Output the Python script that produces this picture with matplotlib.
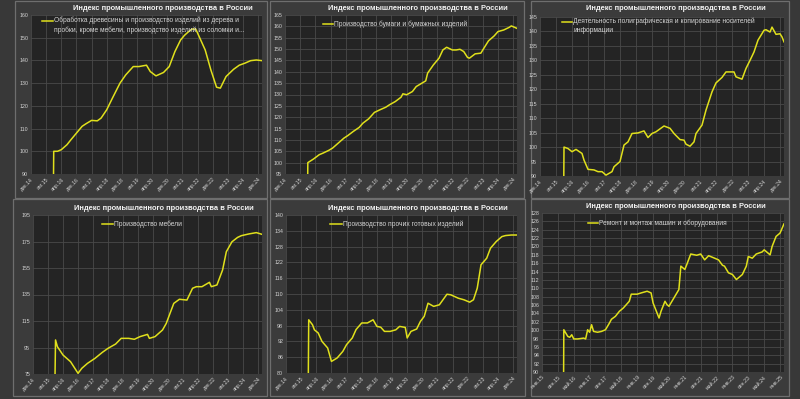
import matplotlib
matplotlib.use("Agg")
import matplotlib.pyplot as plt
from matplotlib.patches import Rectangle
from matplotlib.lines import Line2D

plt.rcParams['font.family'] = ['Liberation Sans', 'DejaVu Sans']

TITLE = "Индекс промышленного производства в России"

ticks_a = ['дек.14', 'авг.15', 'апр.16', 'дек.16', 'авг.17', 'апр.18', 'дек.18', 'авг.19',
           'апр.20', 'дек.20', 'авг.21', 'апр.22', 'дек.22', 'авг.23', 'апр.24', 'дек.24']
ticks_b = ['янв.15', 'сен.15', 'май.16', 'янв.17', 'сен.17', 'май.18', 'янв.19', 'сен.19',
           'май.20', 'янв.21', 'сен.21', 'май.22', 'янв.23', 'сен.23', 'май.24', 'янв.25']

# months since axis start (first category) ; values of the index
wood_m = [11, 12, 14, 16, 19, 21, 24, 27, 29, 32, 35, 37, 40, 43, 47, 50, 54, 57, 61, 63, 66, 70,
          73, 76, 79, 81, 83, 85, 87, 88, 92, 95, 98, 100, 103, 107, 110, 113, 116, 119, 122]
wood_v = [0, 100, 100, 100.7, 102.9, 105, 108, 111, 112.1, 113.6, 113.4, 114.6, 118.3, 123.4, 130,
          133.6, 137.3, 137.3, 137.9, 135.1, 133.2, 134.7, 137.3, 143.9, 149, 151, 152.5, 153.8,
          153.8, 152, 144.6, 135.8, 128.2, 127.8, 132.9, 136.1, 137.9, 138.8, 139.9, 140.2, 139.9]

paper_m = [11, 12, 15, 18, 20, 23, 25, 28, 31, 33, 36, 39, 41, 44, 47, 50, 53, 55, 58, 61, 62, 64,
           67, 69, 72, 74, 75, 78, 81, 83, 85, 88, 90, 92, 94, 96, 97, 100, 103, 104, 107, 110,
           112, 115, 118, 119, 122]
paper_v = [0, 100, 101.6, 103.5, 104.2, 105.4, 106.4, 108.6, 110.8, 111.9, 113.8, 115.5, 117.4,
           119.3, 122.1, 123.3, 124.4, 125.5, 126.9, 128.8, 130.3, 129.9, 131.3, 133.5, 135, 136,
           139.4, 143, 146, 149.6, 150.8, 149.6, 149.6, 149.9, 148.9, 146.3, 146, 147.9, 148.2,
           149.6, 153.6, 155.8, 157.7, 158.4, 159.6, 160.2, 159.1]

print_m = [11, 12, 14, 16, 18, 21, 22, 24, 27, 29, 31, 33, 36, 37, 40, 42, 44, 46, 49, 52, 54, 56,
           58, 61, 62, 65, 67, 70, 72, 73, 75, 77, 78, 81, 83, 86, 88, 91, 93, 97, 98, 101, 103,
           105, 107, 109, 112, 113, 115, 116, 118, 120, 121, 122]
print_v = [0, 100, 99.5, 98.4, 99.2, 97.8, 95.5, 92.3, 92.1, 91.5, 91.5, 90.3, 91.5, 93.2, 95,
           100.7, 101.8, 104.7, 104.9, 105.6, 103.3, 104.7, 105.3, 106.8, 107.3, 106.5, 104.7,
           102.6, 102.4, 101, 100.3, 101.8, 104.7, 107.6, 112.8, 119.1, 122.2, 124.1, 126, 126,
           124.3, 123.5, 127.2, 130, 132.9, 137, 140.4, 140.6, 139.8, 141.5, 139, 139.2, 138.1,
           136.4]

furn_m = [11, 12, 13, 16, 20, 24, 26, 29, 33, 37, 40, 44, 47, 51, 54, 57, 61, 62, 65, 69, 71, 73,
          75, 78, 82, 85, 87, 90, 94, 95, 98, 101, 103, 106, 109, 111, 115, 119, 122]
furn_v = [0, 100.7, 95.6, 89.3, 84.3, 75.5, 79.3, 83, 86.8, 91.4, 94.4, 97.6, 101.9, 101.9, 101.2,
          103.2, 104.9, 101.9, 103.2, 108.2, 113.2, 120.8, 128.3, 131.4, 130.8, 139.7, 140.9,
          140.9, 144.2, 140.9, 142.2, 153.5, 167.3, 174.8, 178.1, 179.4, 180.7, 181.7, 180.4]

other_m = [11, 12, 14, 15, 17, 19, 22, 24, 27, 30, 32, 35, 37, 40, 43, 46, 48, 50, 52, 55, 58, 60,
           63, 64, 66, 69, 71, 73, 75, 78, 81, 85, 87, 91, 94, 97, 99, 101, 103, 106, 108, 111,
           114, 116, 119, 122]
other_v = [0, 100.2, 98.3, 96.4, 95.2, 92, 89.5, 84.4, 85.7, 88.2, 90.8, 93.3, 96.5, 99, 99, 100.2,
           97.7, 97.4, 95.8, 95.8, 96.4, 97.7, 97.3, 93.3, 95.8, 96.7, 99.6, 101.5, 106.5, 105.3,
           105.9, 109.9, 109.7, 108.4, 107.8, 106.9, 107.8, 112.2, 121.1, 123.6, 127.4, 129.9,
           131.8, 132.2, 132.4, 132.4]

repair_m = [10, 11, 13, 14, 15, 16, 18, 21, 22, 23, 24, 25, 26, 28, 30, 32, 34, 35, 37, 39, 41, 44,
            45, 48, 50, 53, 55, 56, 58, 59, 60, 62, 63, 64, 66, 68, 69, 70, 72, 73, 75, 78, 80,
            82, 84, 86, 89, 91, 92, 94, 96, 98, 101, 103, 104, 106, 108, 111, 112, 115, 116, 118,
            120, 122]
repair_v = [0, 100.1, 98.5, 98.3, 98.9, 97.9, 97.9, 98.1, 97.9, 100.1, 99.5, 101.3, 99.7, 99.5,
            99.7, 100.1, 101.7, 102.6, 103.3, 104.5, 105.3, 106.9, 108.6, 108.6, 108.9, 109.3,
            108.9, 106.5, 104.1, 102.9, 104.5, 106.9, 106.1, 105.7, 107.3, 108.9, 109.7, 115.3,
            114.5, 115.7, 118.2, 117.9, 118.2, 116.8, 117.8, 117.4, 116.8, 115.5, 115.3, 113.7,
            113.3, 112.1, 113.3, 115.3, 117.6, 117.2, 118.2, 118.7, 119.2, 118, 120, 122.4, 123.2,
            125.4]

legend_wood = "Обработка древесины и производство изделий из дерева и\nпробки, кроме мебели, производство изделий из соломки и..."
legend_paper = "Производство бумаги и бумажных изделий"
legend_print = "Деятельность полиграфическая и копирование носителей\nинформации"
legend_furn = "Производство мебели"
legend_other = "Производство прочих готовых изделий"
legend_repair = "Ремонт и монтаж машин и оборудования"

W, H = 800, 399
fig = plt.figure(figsize=(8, 3.99), dpi=100, facecolor='#383838')

BG_PANEL = '#3b3b3b'
EDGE = '#6e6e6e'
PLOT_BG = '#242424'
GRID = '#4a4a4a'
TXT = '#d4d4d4'
LINE = '#e0e01c'


def fx(x):
    return x / W


def fy(y):
    return 1 - y / H


panels = [
    dict(frame=(15, 1, 267, 198), plot=(31, 15, 262, 174), title=(163, 8),
         leg=(42, 53, 21), m=wood_m, v=wood_v, txt=legend_wood,
         ylim=(90, 160), yt=list(range(90, 161, 10)), xl=ticks_a),
    dict(frame=(270, 1, 524, 198), plot=(285, 15, 517, 174), title=(418, 8),
         leg=(323, 333, 24), m=paper_m, v=paper_v, txt=legend_paper,
         ylim=(95, 165), yt=list(range(95, 166, 5)), xl=ticks_a),
    dict(frame=(531, 1, 789, 198), plot=(540, 17, 784, 176), title=(676, 8),
         leg=(562, 572, 22), m=print_m, v=print_v, txt=legend_print,
         ylim=(90, 145), yt=list(range(90, 146, 5)), xl=ticks_a),
    dict(frame=(13, 199, 267, 396), plot=(33, 215, 262, 374), title=(164, 208),
         leg=(102, 113, 224), m=furn_m, v=furn_v, txt=legend_furn,
         ylim=(75, 195), yt=list(range(75, 196, 20)), xl=ticks_a),
    dict(frame=(270, 199, 525, 396), plot=(286, 215, 517, 373), title=(418, 208),
         leg=(330, 342, 224), m=other_m, v=other_v, txt=legend_other,
         ylim=(80, 140), yt=list(range(80, 141, 6)), xl=ticks_a),
    dict(frame=(531, 199, 789, 396), plot=(542, 213, 784, 372), title=(676, 207),
         leg=(588, 598, 223), m=repair_m, v=repair_v, txt=legend_repair,
         ylim=(90, 128), yt=list(range(90, 129, 2)), xl=ticks_b),
]

for p in panels:
    x0, y0, x1, y1 = p['frame']
    fig.patches.append(Rectangle((fx(x0), fy(y1)), (x1 - x0) / W, (y1 - y0) / H,
                                 transform=fig.transFigure, facecolor=BG_PANEL,
                                 edgecolor=EDGE, linewidth=0.9, zorder=-5))
    px0, py0, px1, py1 = p['plot']
    ax = fig.add_axes([fx(px0), fy(py1), (px1 - px0) / W, (py1 - py0) / H])
    ax.set_zorder(2)
    ax.set_facecolor(PLOT_BG)
    ax.plot(p['m'], p['v'], color=LINE, linewidth=1.1, solid_joinstyle='round')
    ax.set_xlim(0, 122)
    ax.set_ylim(*p['ylim'])
    ax.set_yticks(p['yt'])
    ax.set_yticklabels([str(t) for t in p['yt']])
    xt = list(range(0, 121, 8))
    ax.set_xticks(xt)
    ax.set_xticklabels(p['xl'], rotation=45, ha='right', va='top', rotation_mode='anchor')
    ax.tick_params(axis='both', length=0, labelsize=3.8, colors=TXT, pad=2)
    ax.grid(True, color=GRID, linewidth=0.6)
    ax.set_axisbelow(True)
    for s in ax.spines.values():
        s.set_visible(False)
    tx, ty = p['title']
    fig.text(fx(tx), fy(ty), TITLE, ha='center', va='center', fontsize=5.4,
             fontweight='bold', color='#f2f2f2', zorder=5)
    lx0, lx1, ly = p['leg']
    fig.add_artist(Line2D([fx(lx0), fx(lx1)], [fy(ly), fy(ly)], color=LINE, linewidth=1.1,
                          transform=fig.transFigure, zorder=5))
    if '\n' in p['txt']:
        fig.text(fx(lx1 + 1), fy(ly - 4), p['txt'], ha='left', va='top', fontsize=4.75,
                 color=TXT, linespacing=1.3, zorder=5)
    else:
        fig.text(fx(lx1 + 1), fy(ly), p['txt'], ha='left', va='center', fontsize=4.75,
                 color=TXT, zorder=5)

fig.savefig('out.png', dpi=100, facecolor=fig.get_facecolor())
